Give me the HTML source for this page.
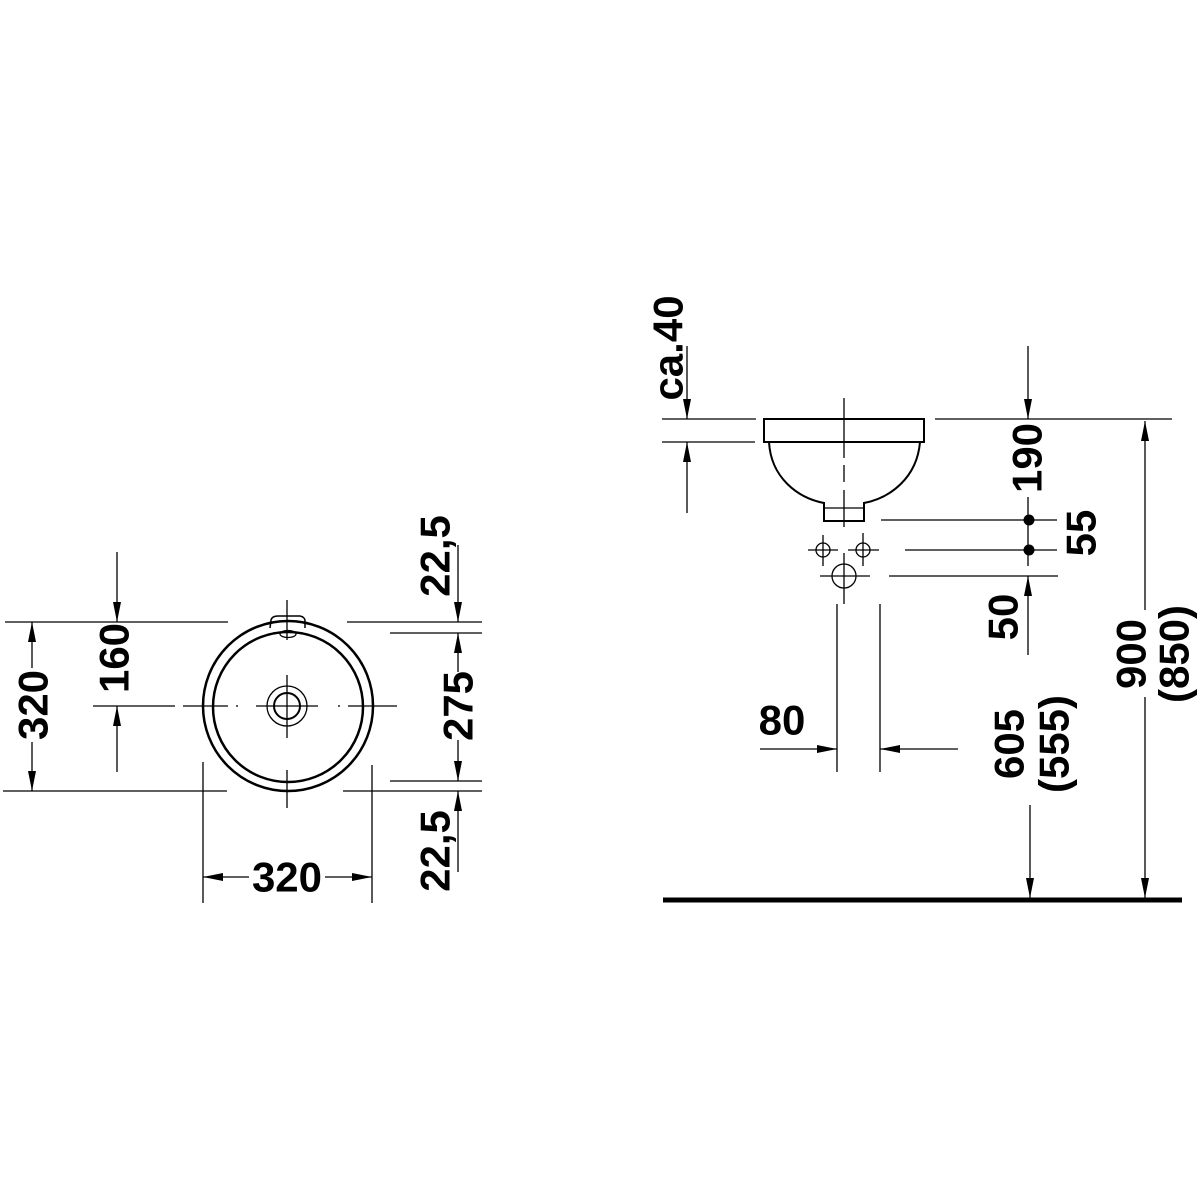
<!DOCTYPE html>
<html><head><style>
html,body{margin:0;padding:0;background:#fff;}
svg{display:block;}
text{font-family:"Liberation Sans Narrow","Liberation Sans",sans-serif;font-weight:bold;font-size:42px;fill:#000;text-anchor:middle;dominant-baseline:central;}
</style></head><body>
<svg width="1200" height="1200" viewBox="0 0 1200 1200" xmlns="http://www.w3.org/2000/svg">
<g stroke="#000" stroke-width="1.3" fill="none">
<circle cx="288" cy="706" r="85" stroke-width="2.5"/>
<circle cx="288" cy="707" r="75" stroke-width="2.5"/>
<circle cx="287" cy="706" r="20"/>
<circle cx="287" cy="706" r="13" stroke-width="2"/>
<path d="M270,628 L271,620 Q272,616 278,616 L300,616 Q305,617 305,621 L305,628" stroke-width="1.5"/>
<ellipse cx="288" cy="634" rx="8" ry="3.5"/>
<line x1="287" y1="600" x2="287" y2="640"/>
<line x1="287" y1="675" x2="287" y2="738"/>
<line x1="287" y1="770" x2="287" y2="808"/>
<line x1="93" y1="706" x2="175" y2="706"/>
<line x1="183" y1="706" x2="228" y2="706"/>
<line x1="236" y1="706" x2="238" y2="706"/>
<line x1="256" y1="706" x2="318" y2="706"/>
<line x1="338" y1="706" x2="340" y2="706"/>
<line x1="348" y1="706" x2="397" y2="706"/>
<line x1="5" y1="622" x2="228" y2="622"/>
<line x1="3" y1="791" x2="227" y2="791"/>
<line x1="32" y1="622" x2="32" y2="668"/>
<line x1="32" y1="742" x2="32" y2="791"/>
<line x1="117" y1="552" x2="117" y2="622"/>
<line x1="117" y1="706" x2="117" y2="772"/>
<line x1="347" y1="622" x2="482" y2="622"/>
<line x1="390" y1="633" x2="482" y2="633"/>
<line x1="390" y1="781" x2="482" y2="781"/>
<line x1="343" y1="791" x2="482" y2="791"/>
<line x1="458" y1="545" x2="458" y2="622"/>
<line x1="458" y1="633" x2="458" y2="672"/>
<line x1="458" y1="740" x2="458" y2="781"/>
<line x1="458" y1="791" x2="458" y2="872"/>
<line x1="203" y1="762" x2="203" y2="903"/>
<line x1="372" y1="765" x2="372" y2="903"/>
<line x1="203" y1="877" x2="249" y2="877"/>
<line x1="325" y1="877" x2="372" y2="877"/>

<rect x="764" y="419" width="160" height="23" stroke-width="2"/>
<path d="M769,442 C771,478 798,498 824,503 L824,521 L864,521 L864,503 C890,498 917,478 920,442" stroke-width="2"/>
<line x1="824" y1="508" x2="864" y2="508"/>
<line x1="844" y1="398" x2="844" y2="458"/>
<line x1="844" y1="465" x2="844" y2="482"/>
<line x1="844" y1="490" x2="844" y2="527"/>
<line x1="662" y1="419" x2="756" y2="419"/>
<line x1="662" y1="442" x2="755" y2="442"/>
<line x1="687" y1="346" x2="687" y2="419"/>
<line x1="687" y1="442" x2="687" y2="513"/>
<line x1="1028" y1="346" x2="1028" y2="419"/>
<line x1="935" y1="419" x2="1172" y2="419"/>
<line x1="1028" y1="497" x2="1028" y2="566"/>
<line x1="881" y1="520" x2="1057" y2="520"/>
<line x1="905" y1="550" x2="1057" y2="550"/>
<line x1="889" y1="576" x2="1058" y2="576"/>
<line x1="1028" y1="576" x2="1028" y2="655"/>
<circle cx="823" cy="550" r="7"/>
<circle cx="863" cy="550" r="7"/>
<circle cx="844" cy="576" r="12"/>
<line x1="808" y1="550" x2="838" y2="550"/>
<line x1="823" y1="535" x2="823" y2="566"/>
<line x1="848" y1="550" x2="879" y2="550"/>
<line x1="863" y1="533" x2="863" y2="566"/>
<line x1="820" y1="576" x2="870" y2="576"/>
<line x1="844" y1="553" x2="844" y2="604"/>
<line x1="837" y1="604" x2="837" y2="772"/>
<line x1="880" y1="604" x2="880" y2="772"/>
<line x1="760" y1="749" x2="837" y2="749"/>
<line x1="880" y1="749" x2="958" y2="749"/>
<line x1="1030" y1="805" x2="1030" y2="898"/>
<line x1="1145" y1="421" x2="1145" y2="610"/>
<line x1="1145" y1="697" x2="1145" y2="898"/>
</g>
<line x1="663" y1="900" x2="1182" y2="900" stroke="#000" stroke-width="5"/>
<g fill="#000">
<polygon points="28,642 36,642 32,622"/>
<polygon points="28,771 36,771 32,791"/>
<polygon points="113,602 121,602 117,622"/>
<polygon points="113,726 121,726 117,706"/>
<polygon points="454,602 462,602 458,622"/>
<polygon points="454,653 462,653 458,633"/>
<polygon points="454,761 462,761 458,781"/>
<polygon points="454,811 462,811 458,791"/>
<polygon points="223,873 223,881 203,877"/>
<polygon points="352,873 352,881 372,877"/>
<polygon points="683,399 691,399 687,419"/>
<polygon points="683,462 691,462 687,442"/>
<polygon points="1024,399 1032,399 1028,419"/>
<polygon points="1024,596 1032,596 1028,576"/>
<polygon points="817,745 817,753 837,749"/>
<polygon points="900,745 900,753 880,749"/>
<polygon points="1026,878 1034,878 1030,898"/>
<polygon points="1141,441 1149,441 1145,421"/>
<polygon points="1141,878 1149,878 1145,898"/>
<circle cx="1029" cy="520" r="5.5"/>
<circle cx="1029" cy="550" r="5.5"/>
</g>
<text transform="translate(33,705) rotate(-90)">320</text>
<text transform="translate(114,658) rotate(-90)">160</text>
<text transform="translate(435,556) rotate(-90)">22,5</text>
<text transform="translate(458,706) rotate(-90)">275</text>
<text transform="translate(435,851) rotate(-90)">22,5</text>
<text x="287" y="877">320</text>
<text transform="translate(668,348) rotate(-90)">ca.40</text>
<text transform="translate(1027,458) rotate(-90)">190</text>
<text transform="translate(1081,533) rotate(-90)">55</text>
<text transform="translate(1003,617) rotate(-90)">50</text>
<text x="782" y="720">80</text>
<text transform="translate(1009,744) rotate(-90)">605</text>
<text transform="translate(1054,744) rotate(-90)">(555)</text>
<text transform="translate(1131,654) rotate(-90)">900</text>
<text transform="translate(1174,654) rotate(-90)">(850)</text>
</svg>
</body></html>
